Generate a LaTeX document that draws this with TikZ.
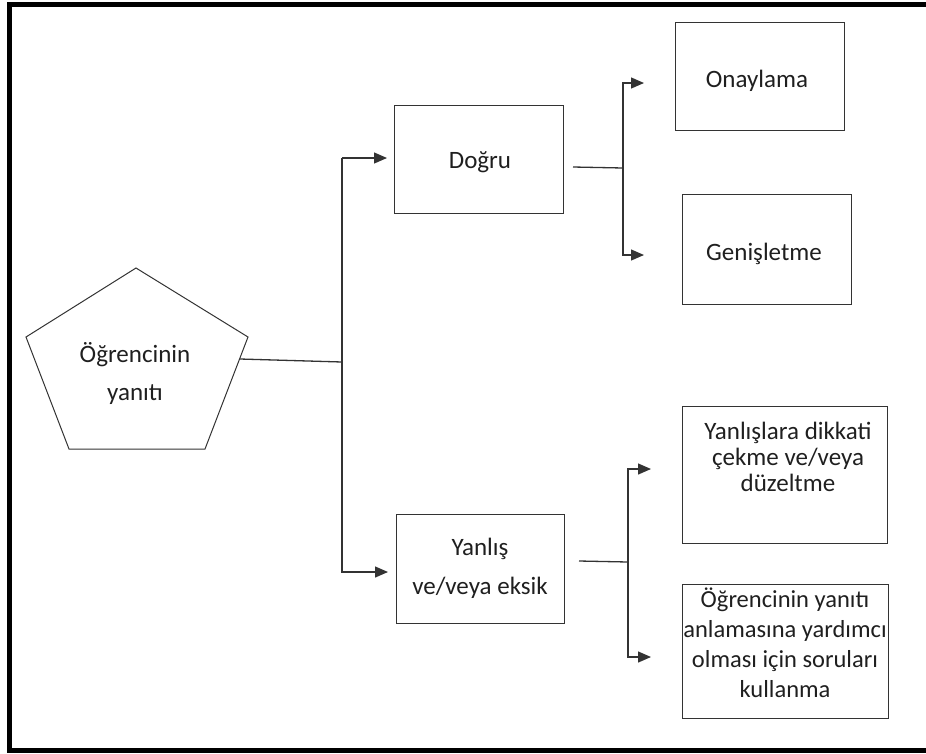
\documentclass[tikz,border=0pt]{standalone}
\usepackage{fontspec}
\setmainfont{Carlito}
\usetikzlibrary{arrows.meta}
\begin{document}
\begin{tikzpicture}[x=1pt,y=-1pt,
  box/.style={draw=black!80,line width=1pt,minimum width=#1,inner sep=0pt},
  txt/.style={align=center,text=black!88,font=\fontsize{25}{30}\selectfont},
  link/.style={draw=black!80,line width=1.3pt},
  arr/.style={link,-{Triangle[length=13pt,width=11pt]}}]
  % page frame
  \useasboundingbox (0,0) rectangle (926,753);
  \draw[line width=5pt] (940,4) -- (9.5,4) -- (9.5,750.5) -- (940,750.5);

  % pentagon holding the student's answer
  \draw[black!80,line width=1pt] (136,268) -- (248,337) -- (205,449) -- (69,449) -- (26,337) -- cycle;
  \node[txt,font=\fontsize{25}{38}\selectfont] (yanit) at (135,373) {Öğrencinin\\yanıtı};
  \coordinate (pr) at (240,359);

  % first level boxes
  \node[box=169pt,minimum height=108pt] (dogru) at (478.5,159) {};
  \node[txt] (dogrutxt) at (480,162) {Doğru};
  \node[box=168pt,minimum height=109pt,txt,font=\fontsize{25}{39}\selectfont] (yanlis) at (480,568.5) {Yanlış\\ve/veya eksik};

  % second level boxes
  \node[box=169pt,minimum height=108pt] (onay) at (759.5,76) {};
  \node[txt] (onaytxt) at (757,81) {Onaylama};
  \node[box=169pt,minimum height=110pt] (genis) at (766.5,249) {};
  \node[txt] (genistxt) at (764,254) {Genişletme};
  \node[box=205pt,minimum height=137pt] (dikkat) at (784.5,474.5) {};
  \node[txt,font=\fontsize{25}{26}\selectfont] (dikkattxt) at (788,457) {Yanlışlara dikkati\\çekme ve/veya\\düzeltme};
  \node[box=206pt,minimum height=134pt] (soru) at (785,651) {};
  \node[txt,font=\fontsize{24.5}{30}\selectfont] (sorutxt) at (785,643) {Öğrencinin yanıtı\\anlamasına yardımcı\\olması için soruları\\kullanma};

  % branching points
  \coordinate (j0) at (342,362);
  \coordinate (j1) at (342,158);
  \coordinate (j2) at (342,572);
  \coordinate (d0) at (623,168);
  \coordinate (d1) at (623,83);
  \coordinate (d2) at (623,255);
  \coordinate (y0) at (628,562);
  \coordinate (y1) at (628,469);
  \coordinate (y2) at (628,657);
  \coordinate (dt) at (573,167);
  \coordinate (yt) at (579,561);

  % connectors
  \draw[link] (pr) -- (j0);
  \draw[arr] (j1) |- (j2) -- ++(46,0);
  \draw[arr] (j2 |- j1) -- ++(45,0);
  \draw[link] (dt) -- (d0);
  \draw[arr] (d2) -- (d1) -- ++(21,0);
  \draw[arr] (d1) -- (d2) -- ++(21,0);
  \draw[link] (yt) -- (y0);
  \draw[arr] (y2) -- (y1) -- ++(23,0);
  \draw[arr] (y1) -- (y2) -- ++(23,0);
\end{tikzpicture}
\end{document}
